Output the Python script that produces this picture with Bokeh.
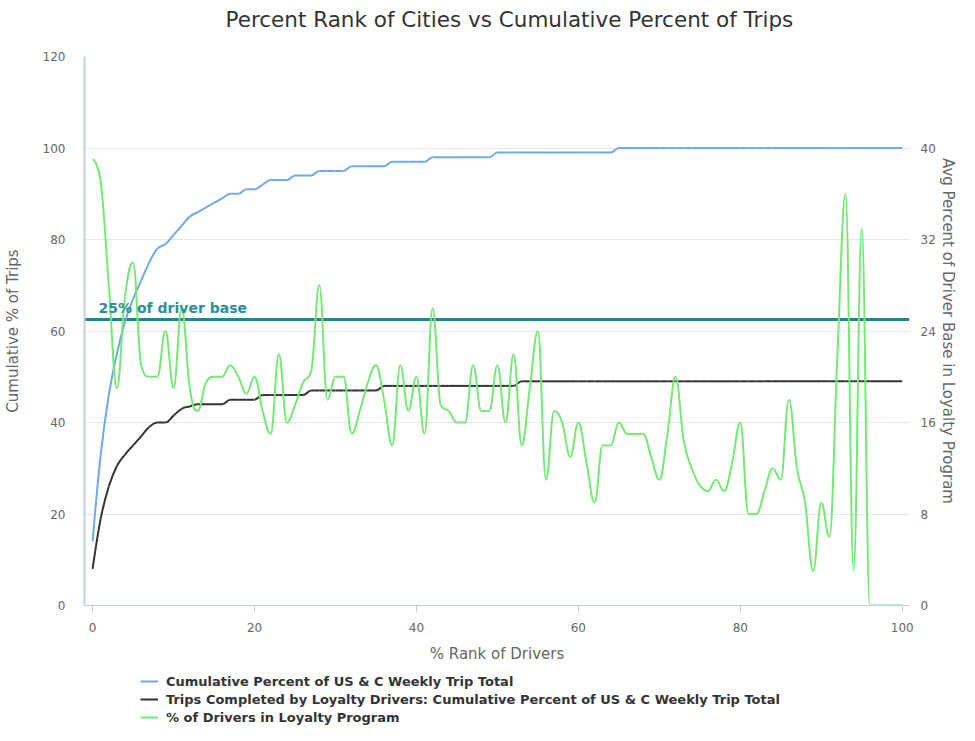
from bokeh.plotting import figure
from bokeh.layouts import column
from bokeh.models import (Range1d, LinearAxis, FixedTicker, Span, Label, Legend,
                          LegendItem, ColumnDataSource)
from bokeh.embed import file_html
from bokeh.resources import INLINE

# ---------------- data ----------------
rank_pct = [0, 1, 2, 3, 4, 5, 6, 7, 8, 9, 10, 11, 12, 13, 14, 15, 16, 17, 18, 19,
            20, 21, 22, 23, 24, 25, 26, 27, 28, 29, 30, 31, 32, 33, 34, 35, 36, 37, 38, 39,
            40, 41, 42, 43, 44, 45, 46, 47, 48, 49, 50, 51, 52, 53, 54, 55, 56, 57, 58, 59,
            60, 61, 62, 63, 64, 65, 66, 67, 68, 69, 70, 71, 72, 73, 74, 75, 76, 77, 78, 79,
            80, 81, 82, 83, 84, 85, 86, 87, 88, 89, 90, 91, 92, 93, 94, 95, 96, 97, 98, 99, 100]

cum_trips = [14, 33, 46, 55, 62, 67, 71, 75, 78, 79,
             81, 83, 85, 86, 87, 88, 89, 90, 90, 91,
             91, 92, 93, 93, 93, 94, 94, 94, 95, 95,
             95, 95, 96, 96, 96, 96, 96, 97, 97, 97,
             97, 97, 98, 98, 98, 98, 98, 98, 98, 98,
             99, 99, 99, 99, 99, 99, 99, 99, 99, 99,
             99, 99, 99, 99, 99, 100, 100, 100, 100, 100,
             100, 100, 100, 100, 100, 100, 100, 100, 100, 100,
             100, 100, 100, 100, 100, 100, 100, 100, 100, 100,
             100, 100, 100, 100, 100, 100, 100, 100, 100, 100, 100]

loyal_trips = [8, 19, 26, 30.5, 33, 35, 37, 39, 40, 40,
               41.5, 43, 43.5, 44, 44, 44, 44, 45, 45, 45,
               45, 46, 46, 46, 46, 46, 46, 47, 47, 47,
               47, 47, 47, 47, 47, 47, 48, 48, 48, 48,
               48, 48, 48, 48, 48, 48, 48, 48, 48, 48,
               48, 48, 48, 49, 49, 49, 49, 49, 49, 49,
               49, 49, 49, 49, 49, 49, 49, 49, 49, 49,
               49, 49, 49, 49, 49, 49, 49, 49, 49, 49,
               49, 49, 49, 49, 49, 49, 49, 49, 49, 49,
               49, 49, 49, 49, 49, 49, 49, 49, 49, 49, 49]

loyal_drivers = [39, 37, 28, 19, 27, 30, 21, 20, 20, 24,
                 19, 26, 19, 17, 19.5, 20, 20, 21, 20, 18.5,
                 20, 17, 15, 22, 16, 17.5, 19.5, 20.5, 28, 18,
                 20, 20, 15, 17, 19.5, 21, 18, 14, 21, 17,
                 20, 15, 26, 17.5, 17, 16, 16, 21, 17, 17,
                 21, 16, 22, 14, 19, 24, 11, 17, 16, 13,
                 16, 12.5, 9, 14, 14, 16, 15, 15, 15, 13,
                 11, 15, 20, 14.5, 12, 10.5, 10, 11, 10, 12.5,
                 16, 8, 8, 10, 12, 11, 18, 12, 9, 3,
                 9, 6, 22, 36, 3, 33, 0, 0, 0, 0, 0]

series = [cum_trips, loyal_trips, loyal_drivers]

base_line_value = 25
base_line_label = "25% of driver base"

x_ticks = [0, 20, 40, 60, 80, 100]
left_ticks = [0, 20, 40, 60, 80, 100, 120]
right_ticks = [0, 8, 16, 24, 32, 40]

title_text = "Percent Rank of Cities vs Cumulative Percent of Trips"
x_title = "% Rank of Drivers"
left_title = "Cumulative % of Trips"
right_title = "Avg Percent of Driver Base in Loyalty Program"
names = ["Cumulative Percent of US & C Weekly Trip Total",
         "Trips Completed by Loyalty Drivers: Cumulative Percent of US & C Weekly Trip Total",
         "% of Drivers in Loyalty Program"]
colors = ["#6fa9e6", "#333333", "#76e876"]

TEAL = "#1d878c"
FONT = "DejaVu Sans"
W = 959


def spline_source(xs, ys, smoothing=1.5):
    """Cubic bezier segments (Highcharts-style spline) through the data points."""
    n = len(xs)
    lc = [(xs[i], ys[i]) for i in range(n)]
    rc = [(xs[i], ys[i]) for i in range(n)]
    d = smoothing + 1
    for i in range(1, n - 1):
        px, py = xs[i], ys[i]
        lx, ly = xs[i - 1], ys[i - 1]
        nx, ny = xs[i + 1], ys[i + 1]
        lcx = (smoothing * px + lx) / d
        lcy = (smoothing * py + ly) / d
        rcx = (smoothing * px + nx) / d
        rcy = (smoothing * py + ny) / d
        corr = 0.0
        if rcx != lcx:
            corr = (rcy - lcy) * (rcx - px) / (rcx - lcx) + py - rcy
        lcy += corr
        rcy += corr
        if lcy > ly and lcy > py:
            lcy = max(ly, py); rcy = 2 * py - lcy
        elif lcy < ly and lcy < py:
            lcy = min(ly, py); rcy = 2 * py - lcy
        if rcy > ny and rcy > py:
            rcy = max(ny, py); lcy = 2 * py - rcy
        elif rcy < ny and rcy < py:
            rcy = min(ny, py); lcy = 2 * py - rcy
        lc[i] = (lcx, lcy)
        rc[i] = (rcx, rcy)
    data = dict(x0=[], y0=[], x1=[], y1=[], cx0=[], cy0=[], cx1=[], cy1=[])
    for i in range(1, n):
        data["x0"].append(xs[i - 1]); data["y0"].append(ys[i - 1])
        data["x1"].append(xs[i]); data["y1"].append(ys[i])
        data["cx0"].append(rc[i - 1][0]); data["cy0"].append(rc[i - 1][1])
        data["cx1"].append(lc[i][0]); data["cy1"].append(lc[i][1])
    return ColumnDataSource(data)


def blank(fig):
    fig.outline_line_color = None
    fig.background_fill_color = "white"
    fig.border_fill_color = "white"
    fig.xgrid.visible = False
    fig.ygrid.visible = False


# ---------------- header (title) ----------------
head = figure(width=W, height=40, output_backend="svg", toolbar_location=None,
              x_axis_location=None, y_axis_location=None, min_border=0,
              x_range=Range1d(0, 1), y_range=Range1d(0, 1))
blank(head)
head.title.text = title_text
head.title.align = "left"
head.title.offset = 141
head.title.text_font = FONT
head.title.text_font_size = "21.5px"
head.title.text_font_style = "normal"
head.title.text_color = "#333333"
head.title.standoff = 8

# ---------------- main chart ----------------
p = figure(width=W, height=625, output_backend="svg", toolbar_location=None,
           x_range=Range1d(-1, 100.9), y_range=Range1d(0, 120),
           min_border_left=76, min_border_right=50, min_border_top=16,
           min_border_bottom=60)
p.extra_y_ranges = {"right": Range1d(0, 48)}
blank(p)


def style_axis(ax):
    ax.axis_label_text_font = FONT
    ax.axis_label_text_font_size = "15px"
    ax.axis_label_text_font_style = "normal"
    ax.axis_label_text_color = "#666666"
    ax.major_label_text_font = FONT
    ax.major_label_text_font_size = "12px"
    ax.major_label_text_color = "#666666"
    ax.minor_tick_line_color = None
    ax.minor_tick_out = 0
    ax.minor_tick_in = 0


xa = p.xaxis[0]
style_axis(xa)
xa.ticker = FixedTicker(ticks=x_ticks)
xa.axis_label = x_title
xa.axis_line_color = "#c0d0e0"
xa.major_tick_line_color = "#c0d0e0"
xa.major_tick_out = 7
xa.major_tick_in = 0
xa.major_label_standoff = 10
xa.axis_label_standoff = 10

ya = p.yaxis[0]
style_axis(ya)
ya.ticker = FixedTicker(ticks=left_ticks)
ya.axis_label = left_title
ya.axis_line_color = "#c0d0e0"
ya.axis_line_width = 2
ya.major_tick_line_color = None
ya.major_tick_out = 0
ya.major_tick_in = 0
ya.major_label_standoff = 19
ya.axis_label_standoff = 18

ra = LinearAxis(y_range_name="right", ticker=FixedTicker(ticks=right_ticks))
style_axis(ra)
ra.axis_label = right_title
ra.axis_line_color = None
ra.major_tick_line_color = None
ra.major_tick_out = 0
ra.major_tick_in = 0
ra.major_label_standoff = 11
ra.axis_label_standoff = 0
p.add_layout(ra, "right")

p.ygrid.visible = True
p.ygrid.ticker = FixedTicker(ticks=left_ticks)
p.ygrid.grid_line_color = "#e6e6e6"
p.ygrid.grid_line_width = 1

span = Span(location=base_line_value, dimension="width", y_range_name="right",
            line_color=TEAL, line_width=3, level="underlay")
p.add_layout(span)
lbl = Label(x=rank_pct[0], y=base_line_value, y_range_name="right", text=base_line_label,
            x_offset=6, y_offset=4, text_font=FONT, text_font_size="14px",
            text_font_style="bold", text_color="#2a9098", text_baseline="bottom")
p.add_layout(lbl)

bez = dict(x0="x0", y0="y0", x1="x1", y1="y1", cx0="cx0", cy0="cy0", cx1="cx1", cy1="cy1")
p.bezier(source=spline_source(rank_pct, cum_trips), line_color=colors[0], line_width=2, **bez)
p.bezier(source=spline_source(rank_pct, loyal_trips), line_color=colors[1], line_width=2, **bez)
p.bezier(source=spline_source(rank_pct, loyal_drivers), line_color=colors[2], line_width=2,
         y_range_name="right", **bez)

# ---------------- legend strip ----------------
# The series are drawn again here only as legend keys; this strip's y range
# lies outside the data, so the lines themselves fall outside its frame.
lf = figure(width=W, height=60, output_backend="svg", toolbar_location=None,
            x_axis_location=None, y_axis_location=None, min_border=0,
            x_range=Range1d(0, 100), y_range=Range1d(-1000, -999))
blank(lf)
items = []
for name, col, ys in zip(names, colors, series):
    r = lf.line(x=rank_pct, y=ys, line_color=col, line_width=2)
    items.append(LegendItem(label=name, renderers=[r]))
legend = Legend(items=items, location=(56, 0), orientation="vertical",
                margin=0, padding=0, spacing=2,
                glyph_width=18, glyph_height=16, label_height=16,
                label_standoff=8, label_text_font=FONT,
                label_text_font_size="13px", label_text_font_style="bold",
                label_text_color="#333333", border_line_color=None,
                background_fill_alpha=0)
lf.add_layout(legend, "center")

layout = column(head, p, lf, spacing=0)
open("out.html", "w").write(file_html(layout, INLINE))
